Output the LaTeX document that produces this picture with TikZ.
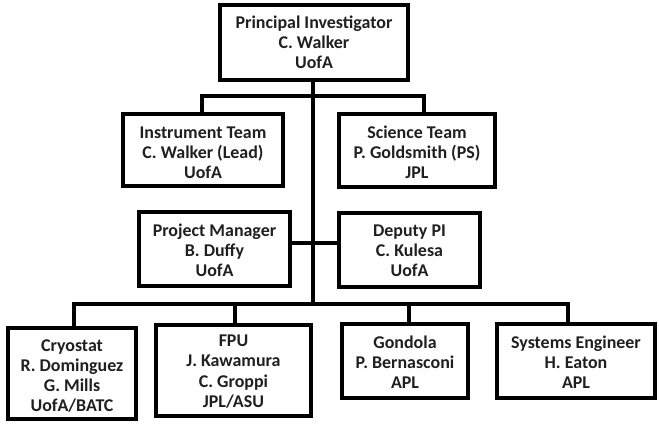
\documentclass[tikz,border=0pt]{standalone}
\usepackage{fontspec}
\setmainfont{Carlito}
\begin{document}
\begin{tikzpicture}[x=1bp,y=-1bp,
  box/.style={draw=black,line width=4bp,fill=white,rectangle,inner sep=0pt,
    align=center,font=\bfseries\fontsize{18}{20.3}\selectfont,text=black!88,
    text depth=4bp},
  conn/.style={draw=black,line width=4bp}]
\useasboundingbox (0,0) rectangle (659,423);
% boxes (centre, size = outer size minus stroke)
\node[box,minimum width=188bp,minimum height=75bp,text height=56.2bp] (pi) at (314,42.5) {Principal Investigator\\C. Walker\\UofA};
\node[box,minimum width=160bp,minimum height=72bp,text height=61.2bp] (it) at (203,150) {Instrument Team\\C. Walker (Lead)\\UofA};
\node[box,minimum width=156bp,minimum height=73bp,text height=60.2bp] (st) at (417,150.5) {Science Team\\P. Goldsmith (PS)\\JPL};
\node[box,minimum width=151bp,minimum height=74bp,text height=59.2bp] (pm) at (214.5,249) {Project Manager\\B. Duffy\\UofA};
\node[box,minimum width=141bp,minimum height=74bp,text height=57.2bp] (dp) at (409.5,250) {Deputy PI\\C. Kulesa\\UofA};
\node[box,minimum width=128bp,minimum height=91bp,text height=80.5bp] (cr) at (72,373.5) {Cryostat\\R. Dominguez\\G. Mills\\UofA/BATC};
\node[box,minimum width=155bp,minimum height=91bp,text height=77.5bp] (fpu) at (233.5,370.5) {FPU\\J. Kawamura\\C. Groppi\\JPL/ASU};
\node[box,minimum width=126bp,minimum height=74bp,text height=59.2bp] (go) at (405,361) {Gondola\\P. Bernasconi\\APL};
\node[box,minimum width=158bp,minimum height=74bp,text height=59.2bp] (se) at (576,361) {Systems Engineer\\H. Eaton\\APL};
% connector points
\coordinate (top) at (313,96);
\coordinate (ul) at (202,96);
\coordinate (ur) at (424,96);
\coordinate (side) at (313,242.5);
\coordinate (mid) at (313,304);
\coordinate (ll) at (74,304);
\coordinate (lr) at (568,304);
\coordinate (lf) at (235,304);
\coordinate (lg) at (409,304);
% trunk and branches
\draw[conn] (pi.south -| top) -- (mid);
\draw[conn,line cap=rect] (ul) -- (ur);
\draw[conn] (ul) -- (ul |- it.north);
\draw[conn] (ur) -- (ur |- st.north);
\draw[conn] (side -| pm.east) -- (side -| dp.west);
\draw[conn,line cap=rect] (ll) -- (lr);
\draw[conn] (ll) -- (ll |- cr.north);
\draw[conn] (lf) -- (lf |- fpu.north);
\draw[conn] (lg) -- (lg |- go.north);
\draw[conn] (lr) -- (lr |- se.north);
\end{tikzpicture}
\end{document}
